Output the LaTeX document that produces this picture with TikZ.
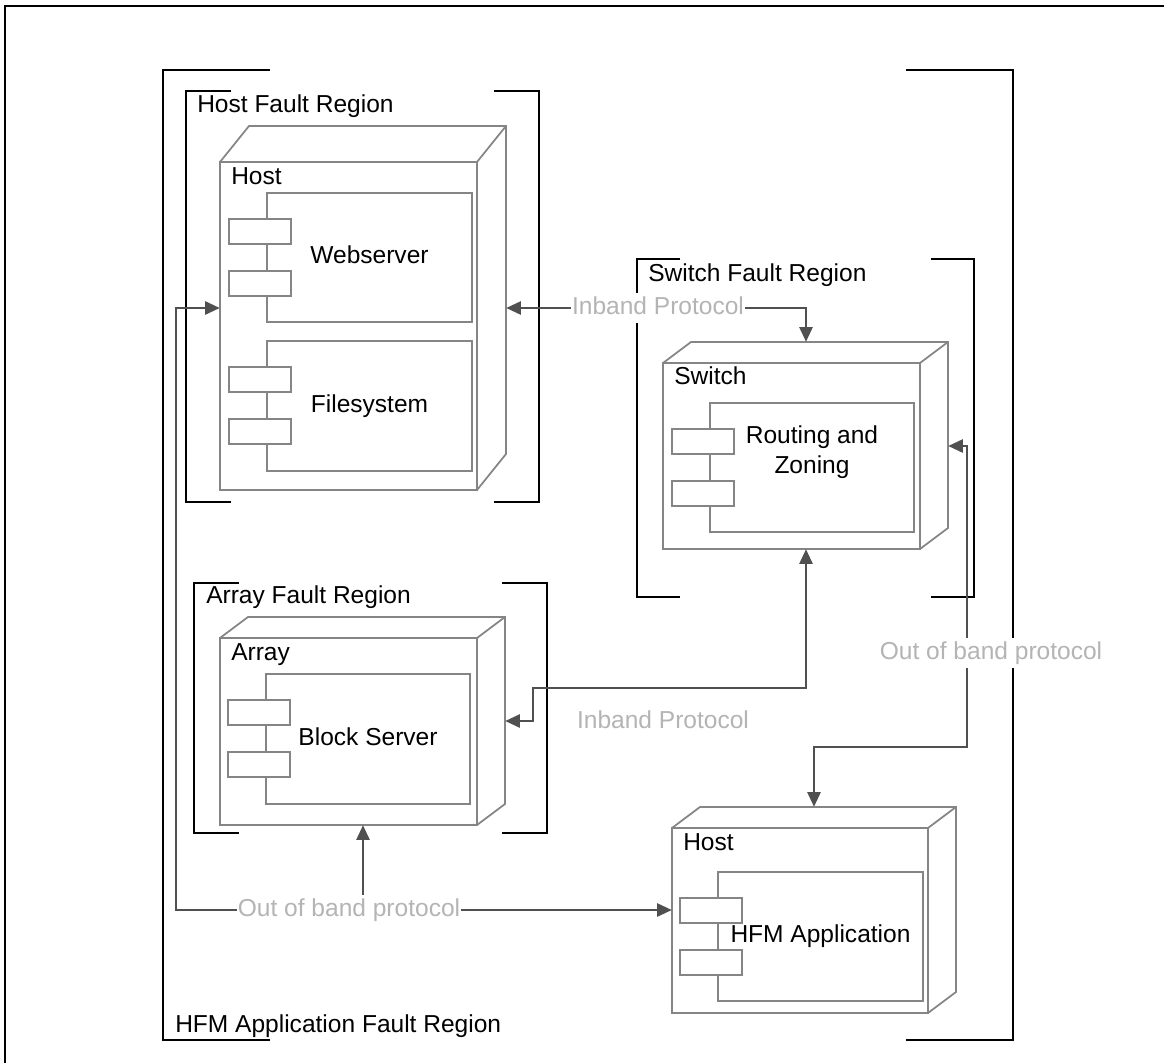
\documentclass[tikz,border=0pt]{standalone}
\usepackage{fontspec}
\setmainfont{Liberation Sans}
\usetikzlibrary{arrows.meta,fit}
\definecolor{nodegray}{HTML}{858585}
\definecolor{conngray}{HTML}{505050}
\definecolor{labgray}{HTML}{B4B4B4}
\tikzset{
  nodeline/.style={draw=nodegray, line width=1.3pt},
  bracket/.style={draw=black, line width=1.4pt},
  conn/.style={draw=conngray, line width=1.3pt, arrows={-}},
  tip/.style={-{Triangle[length=11pt,width=10pt]}},
  bothtip/.style={{Triangle[length=11pt,width=10pt]}-{Triangle[length=11pt,width=10pt]}},
  bigfont/.style={font=\fontsize{18.4pt}{22.5pt}\selectfont},
  regionlabel/.style={bigfont, anchor=base west, inner sep=0pt},
  comptext/.style={bigfont, align=center, inner sep=0pt, text height=13.3pt, text depth=3.9pt},
  conlabel/.style={bigfont, text=labgray, fill=white, inner xsep=1pt, inner ysep=2.5pt, text height=13.3pt, text depth=3.9pt},
}
% 3D node: name, x1, y1, x2, y2 (front face), dx, dy
\newcommand\udnode[7]{%
  \draw[nodeline, fill=white] (#2,#3) -- ({#2+#6},{#3-#7}) -- ({#4+#6},{#3-#7}) -- ({#4+#6},{#5-#7}) -- (#4,#5) -- (#2,#5) -- cycle;
  \node[fit={(#2,#3)(#4,#5)}, inner sep=0pt, nodeline] (#1) {};
  \draw[nodeline] (#4,#3) -- ({#4+#6},{#3-#7});
  \node[fit={(#2,{#3-#7})({#4+#6},#5)}, inner sep=0pt] (#1All) {};
}
% component: name, x1, y1, x2, y2, text
\newcommand\ucomp[6]{%
  \node[fit={(#2,#3)(#4,#5)}, inner sep=0pt, nodeline] (#1) {};
  \node[comptext] (#1Text) at (#1.center) {#6};
  \node[fit={({#2-38},{#3+26})({#2+24},{#3+51})}, inner sep=0pt, nodeline, fill=white] (#1PortA) {};
  \node[fit={({#2-38},{#3+78})({#2+24},{#3+103})}, inner sep=0pt, nodeline, fill=white] (#1PortB) {};
}
% bracket region: x1, y1, x2, y2, arm length
\newcommand\ubracket[5]{%
  \draw[bracket] ({#1+#5},#2) -- (#1,#2) -- (#1,#4) -- ({#1+#5},#4);
  \draw[bracket] ({#3-#5},#2) -- (#3,#2) -- (#3,#4) -- ({#3-#5},#4);
}
\begin{document}
\begin{tikzpicture}[x=0.75pt, y=-0.75pt]
\useasboundingbox (0,0) rectangle (1164,1063);
\draw[line width=1.5pt] (5,1070) -- (5,6) -- (1170,6);

% regions
\ubracket{163}{70}{1013}{1040}{107}
\ubracket{186}{91}{539}{502}{45}
\ubracket{637}{259}{974}{597}{43}
\ubracket{194}{583}{547}{833}{45}

\node[regionlabel] (lblHFMRegion) at (175,1032) {HFM Application Fault Region};
\node[regionlabel] (lblHostRegion) at (197,113) {Host Fault Region};
\node[regionlabel] (lblSwitchRegion) at (648,281) {Switch Fault Region};
\node[regionlabel] (lblArrayRegion) at (206,603) {Array Fault Region};

% nodes
\udnode{host}{220}{162}{477}{490}{29}{36}
\udnode{switch}{663}{363}{920}{549}{28}{21}
\udnode{array}{220}{638}{477}{825}{28}{21}
\udnode{hfm}{672}{828}{928}{1013}{28}{21}

\node[regionlabel] (lblHost) at (231,184) {Host};
\node[regionlabel] (lblSwitch) at (674,384) {Switch};
\node[regionlabel] (lblArray) at (231,660) {Array};
\node[regionlabel] (lblHFMHost) at (683,850) {Host};

% components
\ucomp{web}{267}{193}{472}{322}{Webserver}
\ucomp{fs}{267}{341}{472}{471}{Filesystem}
\ucomp{route}{710}{403}{914}{532}{Routing and\\Zoning}
\ucomp{block}{266}{674}{470}{804}{Block Server}
\ucomp{app}{718}{872}{923}{1001}{HFM Application}

% connectors
\coordinate (b1) at (806,308);
\draw[conn, bothtip] (hostAll.east |- b1) -- (b1) -- (switchAll.north -| b1);

\coordinate (b2) at (176,308);
\coordinate (b3) at (176,910);
\draw[conn, bothtip] (hostAll.west |- b2) -- (b2) -- (b3) -- (hfmAll.west |- b3);

\coordinate (b4) at (363,910);
\draw[conn, tip] (b4) -- (arrayAll.south -| b4);

\coordinate (b5) at (806,688);
\coordinate (b6) at (533,688);
\coordinate (b7) at (533,721);
\draw[conn, bothtip] (switchAll.south -| b5) -- (b5) -- (b6) -- (b7) -- (arrayAll.east |- b7);

\coordinate (b8) at (967,446);
\coordinate (b9) at (967,747);
\coordinate (b10) at (814,747);
\draw[conn, bothtip] (switchAll.east |- b8) -- (b8) -- (b9) -- (b10) -- (hfmAll.north -| b10);

% connector labels
\node[conlabel] (lblInbandTop) at (658,308) {Inband Protocol};
\node[conlabel] (lblInbandLow) at (663,722) {Inband Protocol};
\node[conlabel] (lblOobBottom) at (349,910) {Out of band protocol};
\node[conlabel] (lblOobRight) at (991,653) {Out of band protocol};
\end{tikzpicture}
\end{document}
